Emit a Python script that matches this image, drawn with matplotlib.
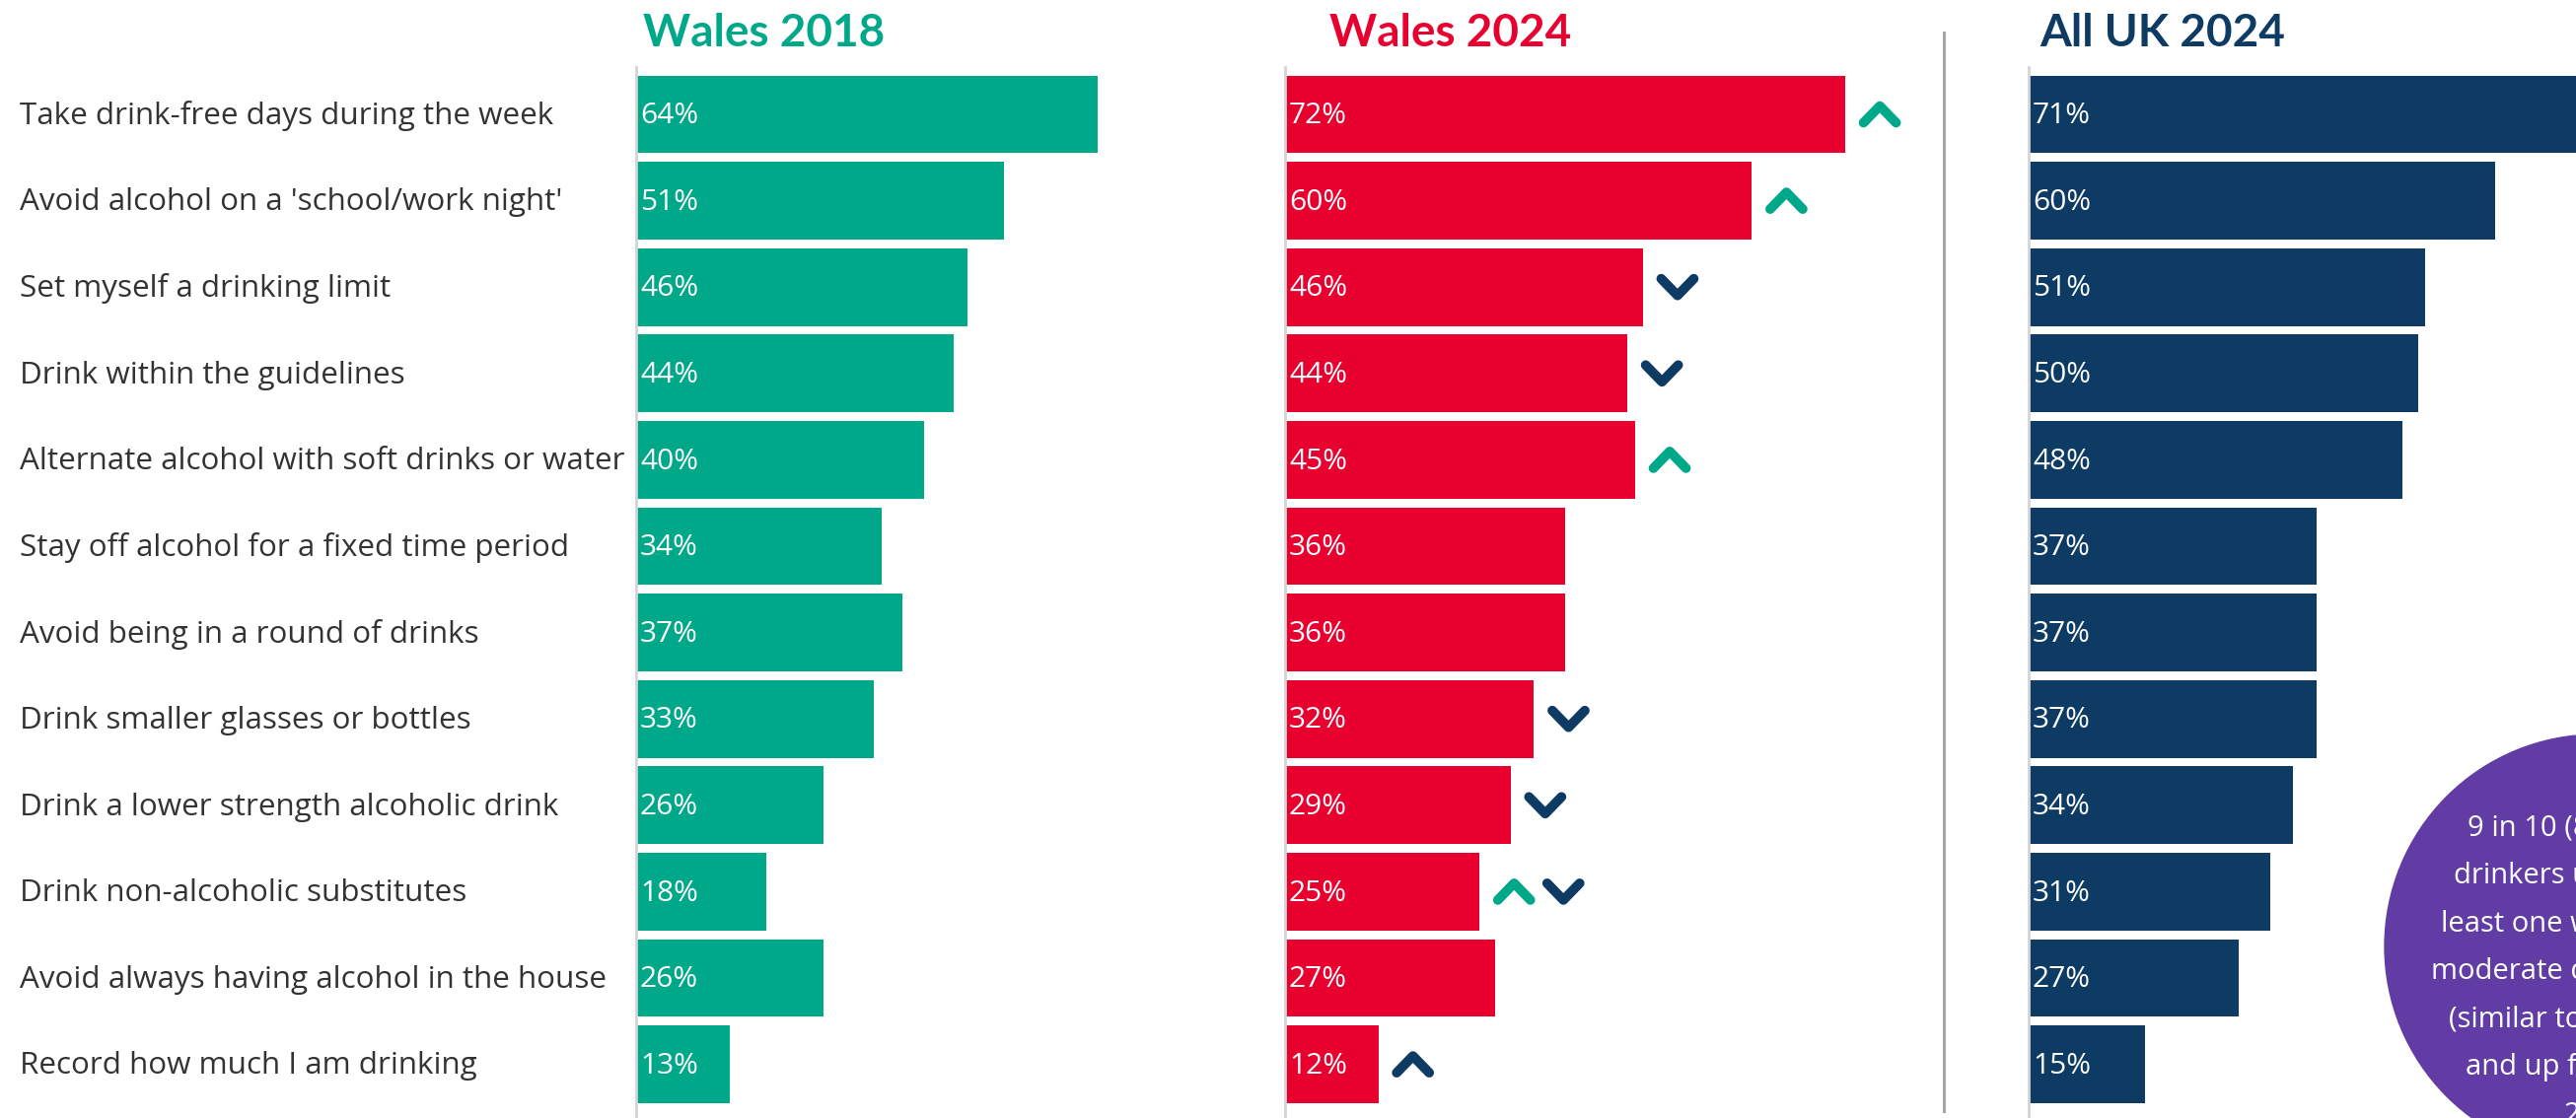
import matplotlib.pyplot as plt
import matplotlib.transforms as mtransforms
from matplotlib.patches import Circle

categories = [
    "Take drink-free days during the week",
    "Avoid alcohol on a 'school/work night'",
    "Set myself a drinking limit",
    "Drink within the guidelines",
    "Alternate alcohol with soft drinks or water",
    "Stay off alcohol for a fixed time period",
    "Avoid being in a round of drinks",
    "Drink smaller glasses or bottles",
    "Drink a lower strength alcoholic drink",
    "Drink non-alcoholic substitutes",
    "Avoid always having alcohol in the house",
    "Record how much I am drinking",
]
wales_2018 = [64, 51, 46, 44, 40, 34, 37, 33, 26, 18, 26, 13]
wales_2024 = [72, 60, 46, 44, 45, 36, 36, 32, 29, 25, 27, 12]
uk_2024 = [71, 60, 51, 50, 48, 37, 37, 37, 34, 31, 27, 15]
# change markers next to Wales 2024 bars
vs_2018 = ["up", "up", None, None, "up", None, None, None, None, "up", None, None]
vs_uk = [None, None, "down", "down", None, None, None, "down", "down", "down", None, "up"]
circle_lines = ["9 in 10 (89%) of", "drinkers used at", "least one way to",
                "moderate drinking", "(similar to the UK", "and up from", "2018)"]

GREEN = "#00A88A"
RED = "#E8002F"
NAVY = "#0D3B63"
PURPLE = "#613CA5"
TXT = "#333333"
BODY = ["Open Sans", "DejaVu Sans"]

W, H = 2612, 1134
fig = plt.figure(figsize=(W / 100, H / 100), dpi=100)
plt.rcParams["font.family"] = ["Lato", "DejaVu Sans"]

ROW = 87.6           # px per row
TOP, BOT = 68, 1134  # axes extent in px from top
y0 = 116             # centre of first bar (px)
ylim = ((BOT - y0) / ROW, (TOP - y0) / ROW)


def make_ax(x0, x1, pxper):
    ax = fig.add_axes([x0 / W, 1 - BOT / H, (x1 - x0) / W, (BOT - TOP) / H])
    ax.set_xlim(0, (x1 - x0) / pxper)
    ax.set_ylim(*ylim)
    for s in ["top", "right", "bottom"]:
        ax.spines[s].set_visible(False)
    ax.spines["left"].set_color("#d4d4d4")
    ax.spines["left"].set_linewidth(2)
    ax.set_xticks([])
    ax.set_yticks([])
    ax.patch.set_alpha(0)
    return ax


panels = [
    (645, 1290, 7.31, wales_2018, GREEN, "Wales 2018", 652),
    (1303, 1960, 7.89, wales_2024, RED, "Wales 2024", 1348),
    (2057, 2612, 7.89, uk_2024, NAVY, "All UK 2024", 2068),
]
axes = []
for x0, x1, pxper, vals, col, title, tx in panels:
    ax = make_ax(x0, x1, pxper)
    ys = list(range(len(vals)))
    ax.barh(ys, vals, height=0.9, color=col)
    for y, v in zip(ys, vals):
        ax.text(4 / pxper, y + 0.02, f"{v}%", color="white", fontsize=21.5,
                va="center", ha="left", family=BODY)
    fig.text(tx / W, 1 - 47 / H, title, color=col, fontsize=33,
             fontweight="bold", ha="left", va="baseline")
    axes.append(ax)

# category labels
trans = mtransforms.blended_transform_factory(fig.transFigure, axes[0].transData)
for i, c in enumerate(categories):
    axes[0].text(20 / W, i + 0.02, c, transform=trans, fontsize=22.6, color=TXT,
                 va="center", ha="left", family=BODY)

# chevrons on Wales 2024 panel
ax2 = axes[1]
pxper = 7.89
hw, hh = 16.5 / pxper, 8.5 / ROW


def chevron(ax, cx, cy, direction, color):
    s = 1 if direction == "up" else -1
    ax.plot([cx - hw, cx, cx + hw], [cy + s * hh, cy - s * hh, cy + s * hh],
            color=color, lw=7, solid_capstyle="round", solid_joinstyle="round")


for i, v in enumerate(wales_2024):
    x = v + 35 / pxper
    marks = [(vs_2018[i], GREEN), (vs_uk[i], NAVY)]
    for d, col in marks:
        if d is None:
            continue
        chevron(ax2, x, i, d, col)
        x += 50 / pxper

# overlay in pixel coords for divider and circle
ov = fig.add_axes([0, 0, 1, 1])
ov.set_xlim(0, W)
ov.set_ylim(H, 0)
ov.axis("off")
ov.patch.set_alpha(0)
ov.plot([1971, 1971], [33, 1127], color="#a6a6a6", lw=2.2)
cx, cy, r = 2633, 960, 215
ov.add_patch(Circle((cx, cy), r, color=PURPLE, clip_on=True))
starts = [2502, 2488, 2475, 2465, 2483, 2500, 2600]
for k, (line, sx) in enumerate(zip(circle_lines, starts)):
    ov.text(sx, 840 + k * 48.5, line, color="white", fontsize=21,
            ha="left", va="center", family=BODY)

fig.savefig("out.png", dpi=100)
